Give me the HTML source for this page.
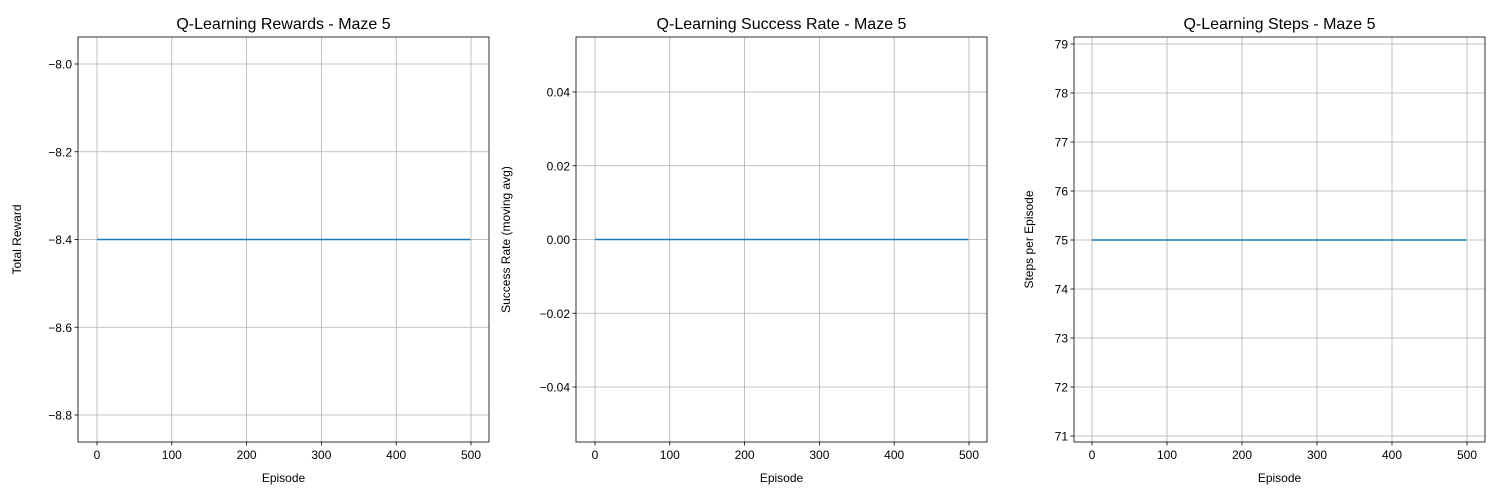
<!DOCTYPE html>
<html><head><meta charset="utf-8">
<style>
body{margin:0;background:#fff;}
svg{display:block;font-family:"Liberation Sans","DejaVu Sans",sans-serif;}
</style></head>
<body>
<svg id="fig" width="1500" height="500" viewBox="0 0 1500 500"></svg>
<script>
// Data
const episodes = [0, 100, 200, 300, 400, 499];
const rewardValues = [-8.4, -8.4, -8.4, -8.4, -8.4, -8.4];
const successValues = [0, 0, 0, 0, 0, 0];
const stepsValues = [75, 75, 75, 75, 75, 75];
const xTicks = [0, 100, 200, 300, 400, 500];
const rewardTicks = [-8.0, -8.2, -8.4, -8.6, -8.8];
const successTicks = [0.04, 0.02, 0.00, -0.02, -0.04];
const stepsTicks = [79, 78, 77, 76, 75, 74, 73, 72, 71];

const NS = "http://www.w3.org/2000/svg";
const svgRoot = document.getElementById('fig');
function mk(tag, attrs, parent){const e=document.createElementNS(NS,tag);for(const k in attrs)e.setAttribute(k,attrs[k]);(parent||svgRoot).appendChild(e);return e;}

const panels = [
 {key:'rewards', title:'Q-Learning Rewards - Maze 5', ylabel:'Total Reward', left:78, x0px:97, x500px:471, yA:-8.0, yApx:64, yB:-8.8, yBpx:415, ticks:rewardTicks, fmt:v=>v.toFixed(1).replace('-','\u2212'), vals:rewardValues, ylx:21},
 {key:'success', title:'Q-Learning Success Rate - Maze 5', ylabel:'Success Rate (moving avg)', left:576, x0px:595, x500px:969, yA:0.04, yApx:92, yB:-0.04, yBpx:387, ticks:successTicks, fmt:v=>v.toFixed(2).replace('-','\u2212'), vals:successValues, ylx:510},
 {key:'steps', title:'Q-Learning Steps - Maze 5', ylabel:'Steps per Episode', left:1074, x0px:1092, x500px:1467, yA:79, yApx:44, yB:71, yBpx:436, ticks:stepsTicks, fmt:v=>String(v), vals:stepsValues, ylx:1033}
];
const plotTop=37, plotBottom=442, plotWidth=411;

panels.forEach(p=>{
 const g = mk('g',{});
 
 
 const xs = v => p.x0px + (v/500)*(p.x500px-p.x0px);
 const ys = v => p.yApx + (v-p.yA)/(p.yB-p.yA)*(p.yBpx-p.yApx);
 xTicks.forEach(t=>{
  const x=xs(t);
  const gl=mk('line',{x1:x,x2:x,y1:plotTop,y2:plotBottom,stroke:'#b0b0b0','stroke-width':0.8},g);
  
  
  mk('line',{x1:x,x2:x,y1:plotBottom,y2:plotBottom+3.5,stroke:'#000','stroke-width':0.8},g);
  const tx=mk('text',{x:x,y:plotBottom+17,'font-size':12,'text-anchor':'middle',fill:'#000'},g);
  tx.textContent=t;
  
  
 });
 p.ticks.forEach(t=>{
  const y=ys(t);
  const gl=mk('line',{x1:p.left,x2:p.left+plotWidth,y1:y,y2:y,stroke:'#b0b0b0','stroke-width':0.8},g);
  
  
  mk('line',{x1:p.left-3.5,x2:p.left,y1:y,y2:y,stroke:'#000','stroke-width':0.8},g);
  const tx=mk('text',{x:p.left-6,y:y+4.5,'font-size':12,'text-anchor':'end',fill:'#000'},g);
  tx.textContent=p.fmt(t);
  
  
 });
 const pts = episodes.map((e,i)=>xs(e).toFixed(1)+','+ys(p.vals[i]).toFixed(1)).join(' ');
 const line=mk('polyline',{points:pts,fill:'none',stroke:'#1f77b4','stroke-width':1.5},g);
 
 
 const fr=mk('rect',{x:p.left,y:plotTop,width:plotWidth,height:plotBottom-plotTop,fill:'none',stroke:'#000','stroke-width':0.8},g);
 
 
 const ti=mk('text',{x:p.left+plotWidth/2,y:29,'font-size':16,'text-anchor':'middle',fill:'#000'},g);
 ti.textContent=p.title;
 
 
 const xl=mk('text',{x:p.left+plotWidth/2,y:482,'font-size':12,'text-anchor':'middle',fill:'#000'},g);
 xl.textContent='Episode';
 
 
 const cy=(plotTop+plotBottom)/2;
 const yl=mk('text',{x:p.ylx,y:cy,'font-size':12,'text-anchor':'middle',fill:'#000',transform:'rotate(-90 '+p.ylx+' '+cy+')'},g);
 yl.textContent=p.ylabel;
 
 
});
</script>
</body></html>
